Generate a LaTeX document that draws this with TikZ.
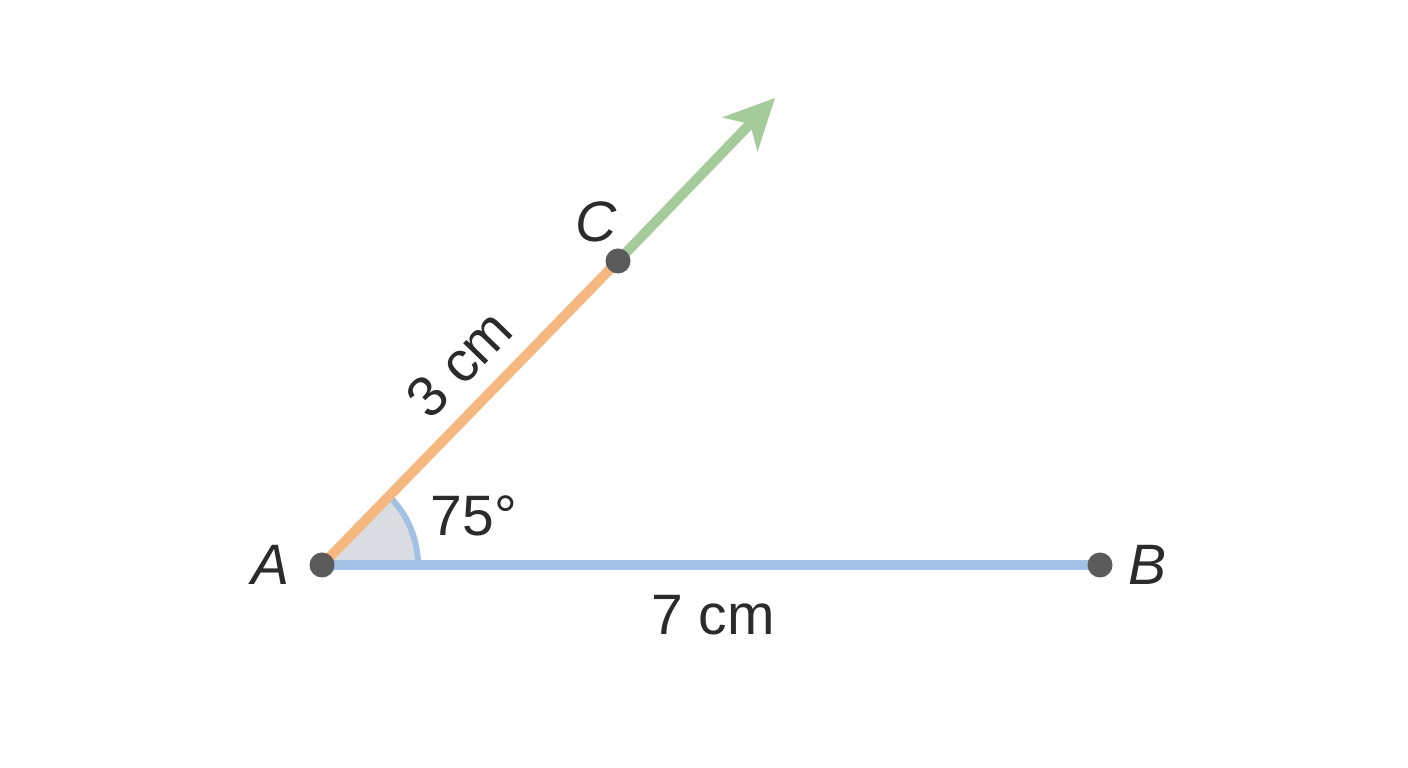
\documentclass[tikz,border=0pt]{standalone}
\usepackage{fontspec}
\setmainfont{Liberation Sans}
\usetikzlibrary{positioning,arrows.meta}
\definecolor{segorange}{HTML}{F4B880}
\definecolor{segblue}{HTML}{A2C1E4}
\definecolor{raygreen}{HTML}{A4CB99}
\definecolor{dotgray}{HTML}{5B5B5B}
\definecolor{textgray}{HTML}{2B2B2B}
\definecolor{anglegray}{HTML}{D9DDE1}

\begin{document}
\begin{tikzpicture}[x=1pt, y=1pt,
	pstyle/.style={circle, fill=dotgray, inner sep=0pt, minimum size=25pt},
	lstyle/.style={text=textgray, font=\fontsize{57}{64}\selectfont},
	]
	\useasboundingbox (0,0) rectangle (1408,768);
	\fill[white] (0,0) rectangle (1408,768);
	
	\coordinate (A) at (322,203);
	\coordinate (B) at (1100,203);
	\coordinate (C) at (618,507);
	\coordinate (T) at (775,670);
	
	\fill[anglegray] (A) -- ++(0:96) arc[start angle=0, end angle=45.8, radius=96] -- cycle;
	\draw[segblue, line width=6pt] (A) ++(0:96) arc[start angle=0, end angle=45.8, radius=96];
	
	\draw[segorange, line width=10pt] (A) to (C);
	\draw[raygreen, line width=10pt, -{Stealth[length=50pt, width=48pt, inset=14pt]}] (C) to (T);
	\draw[segblue, line width=10pt] (A) to (B);
	
	\node[pstyle] (a) at (A) {};
	\node[pstyle] (b) at (B) {};
	\node[pstyle] (c) at (C) {};
	
	\node[lstyle, left=16pt of a] (alab) {\itshape A};
	\node[lstyle, right=12pt of b] (blab) {\itshape B};
	\node[lstyle] (clab) at (596,546) {\itshape C};
	\node[lstyle] (ang) at (474,252) {75°};
	\node[lstyle] (ab) at (713,153) {7 cm};
	\node[lstyle, rotate=45.8] (ac) at (459,404) {3 cm};
\end{tikzpicture}
\end{document}
